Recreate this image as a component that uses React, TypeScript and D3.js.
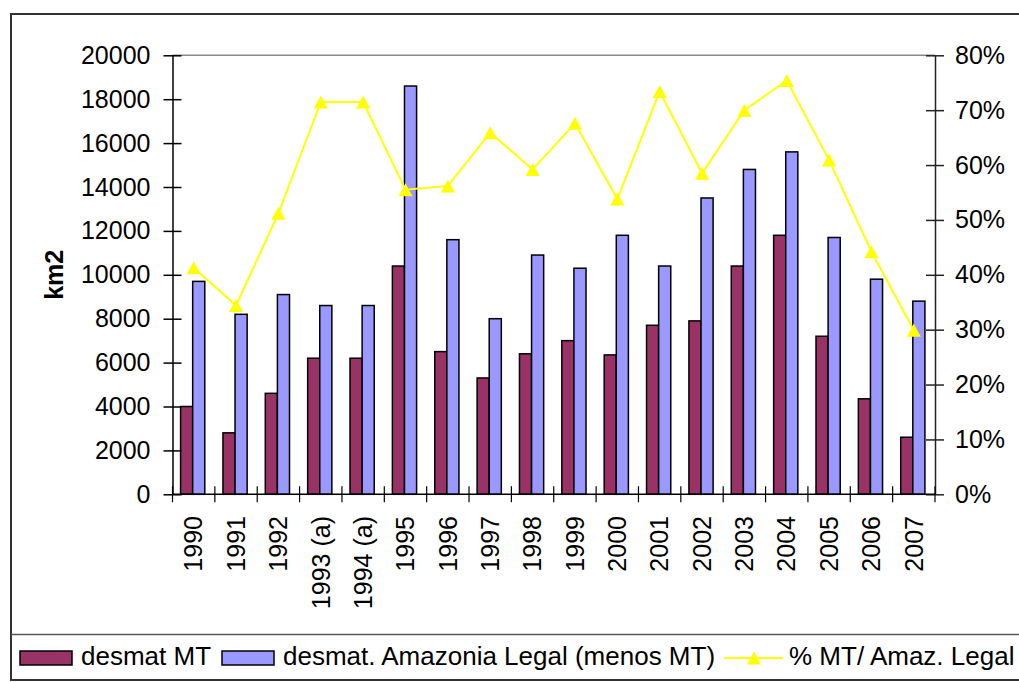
import React, { Component } from 'react'
import * as d3 from 'd3'

// values
const years = ["1990", "1991", "1992", "1993 (a)", "1994 (a)", "1995", "1996", "1997", "1998", "1999",
	"2000", "2001", "2002", "2003", "2004", "2005", "2006", "2007"];
const desmatMT = [4000, 2800, 4600, 6200, 6200, 10400, 6500, 5300, 6400, 7000, 6350, 7700, 7900, 10400, 11800, 7200, 4350, 2600];
const desmatAmazonia = [9700, 8200, 9100, 8600, 8600, 18600, 11600, 8000, 10900, 10300, 11800, 10400, 13500, 14800, 15600, 11700, 9800, 8800];
const pctMT = [41.3, 34.4, 51.2, 71.5, 71.5, 55.5, 56.2, 65.9, 59.2, 67.6, 53.8, 73.4, 58.5, 70.0, 75.4, 60.9, 44.2, 29.9];
const kmTicks = [0, 2000, 4000, 6000, 8000, 10000, 12000, 14000, 16000, 18000, 20000];
const pctTicks = [0, 10, 20, 30, 40, 50, 60, 70, 80];
const legendLabels = ["desmat MT", "desmat. Amazonia Legal (menos MT)", "% MT/ Amaz. Legal"];

const FONT = "'Liberation Sans', Arial, sans-serif";
const MAROON = "#993366";
const BLUE = "#9999FF";
const YELLOW = "#FFFF00";

class App extends Component {

	render() {
		return (
			<svg
				ref={(r) => this.node = r}
				width={1019}
				height={682}
				style={{ position: "absolute", left: 0, top: 0, background: "#fff" }}
			/>
		);
	}

	componentDidMount() {
		this.plot();
	}

	plot() {
		const svg = d3.select(this.node);
		svg.selectAll("*").remove();

		const left = 172.5, right = 935, top = 55.3, bottom = 494.3;

		// chart frame and legend box
		svg.append("rect")
			.attr("x", 11).attr("y", 14)
			.attr("width", 1100).attr("height", 666)
			.attr("fill", "none").attr("stroke", "#333").attr("stroke-width", 2);
		svg.append("line")
			.attr("x1", 11).attr("x2", 1019)
			.attr("y1", 634.5).attr("y2", 634.5)
			.attr("stroke", "#555").attr("stroke-width", 1.5);

		const x = d3.scaleBand().domain(years).range([left, right]).paddingInner(0).paddingOuter(0);
		const y = d3.scaleLinear().domain([0, 20000]).range([bottom, top]);
		const yPct = d3.scaleLinear().domain([0, 80]).range([bottom, top]);

		const bw = x.bandwidth();
		const barW = bw / 3.5;
		const off = bw / 2 - barW - 1;

		// plot area top border
		svg.append("line")
			.attr("x1", left).attr("x2", right)
			.attr("y1", top).attr("y2", top)
			.attr("stroke", "#888").attr("stroke-width", 1.5);

		const bars = svg.append("g").attr("stroke", "#000").attr("stroke-width", 1.5);
		bars.selectAll("rect.mt")
			.data(desmatMT)
			.enter()
			.append("rect")
			.attr("class", "mt")
			.attr("x", (d, i) => x(years[i]) + off)
			.attr("y", d => y(d))
			.attr("width", barW)
			.attr("height", d => bottom - y(d))
			.attr("fill", MAROON);
		bars.selectAll("rect.am")
			.data(desmatAmazonia)
			.enter()
			.append("rect")
			.attr("class", "am")
			.attr("x", (d, i) => x(years[i]) + off + barW)
			.attr("y", d => y(d))
			.attr("width", barW)
			.attr("height", d => bottom - y(d))
			.attr("fill", BLUE);

		// left axis
		const yaxis = d3.axisLeft(y).tickValues(kmTicks).tickSizeInner(9).tickSizeOuter(0).tickPadding(13).tickFormat(d3.format("d"));
		const gy = svg.append("g").attr("transform", `translate(${left},0)`).call(yaxis);
		gy.selectAll(".tick line").attr("x1", 9).attr("stroke", "#000").attr("stroke-width", 1.5);
		gy.select(".domain").attr("stroke", "#000").attr("stroke-width", 1.5);
		gy.selectAll("text").attr("font-family", FONT).attr("font-size", 25).attr("fill", "#000");

		// right axis
		const yaxis2 = d3.axisRight(yPct).tickValues(pctTicks).tickSizeInner(9).tickSizeOuter(0).tickPadding(11).tickFormat(d => d + "%");
		const gy2 = svg.append("g").attr("transform", `translate(${right},0)`).call(yaxis2);
		gy2.selectAll(".tick line").attr("x1", -9).attr("stroke", "#222").attr("stroke-width", 1.5);
		gy2.select(".domain").attr("stroke", "#222").attr("stroke-width", 1.5);
		gy2.selectAll("text").attr("font-family", FONT).attr("font-size", 25).attr("fill", "#000");

		// category axis
		const gx = svg.append("g");
		gx.append("line")
			.attr("x1", left).attr("x2", right)
			.attr("y1", bottom).attr("y2", bottom)
			.attr("stroke", "#000").attr("stroke-width", 1.5);
		gx.selectAll("line.tick")
			.data(years.map(d => x(d)).concat([right]))
			.enter()
			.append("line")
			.attr("class", "tick")
			.attr("x1", d => d).attr("x2", d => d)
			.attr("y1", bottom - 8).attr("y2", bottom + 8)
			.attr("stroke", "#000").attr("stroke-width", 1.2);
		gx.selectAll("text")
			.data(years)
			.enter()
			.append("text")
			.attr("transform", d => `translate(${x(d) + bw / 2},516) rotate(-90)`)
			.attr("text-anchor", "end")
			.attr("dy", "0.35em")
			.attr("font-family", FONT)
			.attr("font-size", 25)
			.text(d => d);

		// axis title
		svg.append("text")
			.attr("transform", `translate(63,${(top + bottom) / 2}) rotate(-90)`)
			.attr("text-anchor", "middle")
			.attr("font-family", FONT)
			.attr("font-size", 25)
			.attr("font-weight", "bold")
			.text("km2");

		// percent line
		const line = d3.line()
			.x((d, i) => x(years[i]) + bw / 2)
			.y(d => yPct(d));
		svg.append("path")
			.datum(pctMT)
			.attr("d", line)
			.attr("fill", "none")
			.attr("stroke", YELLOW)
			.attr("stroke-width", 2);
		const tri = "M0,-6.5L7,6.5L-7,6.5Z";
		svg.selectAll("path.marker")
			.data(pctMT)
			.enter()
			.append("path")
			.attr("class", "marker")
			.attr("d", tri)
			.attr("transform", (d, i) => `translate(${x(years[i]) + bw / 2},${yPct(d)})`)
			.attr("fill", YELLOW);

		// legend
		const lg = svg.append("g").attr("font-family", FONT).attr("font-size", 26);
		lg.append("rect").attr("x", 20).attr("y", 651).attr("width", 52).attr("height", 14)
			.attr("fill", MAROON).attr("stroke", "#000").attr("stroke-width", 1.5);
		lg.append("text").attr("x", 81).attr("y", 665).text(legendLabels[0]);
		lg.append("rect").attr("x", 222).attr("y", 651).attr("width", 52).attr("height", 14)
			.attr("fill", BLUE).attr("stroke", "#000").attr("stroke-width", 1.5);
		lg.append("text").attr("x", 283).attr("y", 665).text(legendLabels[1]);
		lg.append("line").attr("x1", 724).attr("x2", 783).attr("y1", 658).attr("y2", 658)
			.attr("stroke", YELLOW).attr("stroke-width", 2);
		lg.append("path").attr("d", tri).attr("transform", "translate(754,658)").attr("fill", YELLOW);
		lg.append("text").attr("x", 789).attr("y", 665).text(legendLabels[2]);
	}
}

export default App;
